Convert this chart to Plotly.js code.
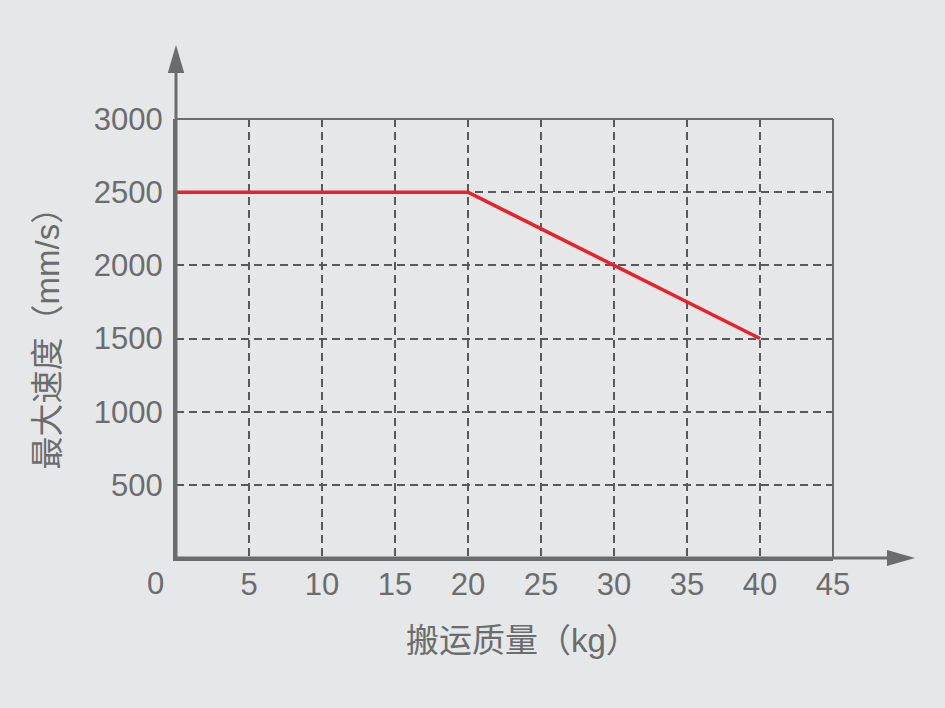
<!DOCTYPE html>
<html><head><meta charset="utf-8">
<script src="https://cdn.plot.ly/plotly-3.0.1.min.js"></script>
<style>html,body{margin:0;padding:0;background:#e6e7e8;}#chart{width:945px;height:708px;}</style>
</head><body><div id="chart"></div>
<script>
const loadKg = [0, 20, 40];
const speedMmS = [2500, 2500, 1500];
const xTicks = [5, 10, 15, 20, 25, 30, 35, 40, 45];
const yTicks = [500, 1000, 1500, 2000, 2500, 3000];
const xTitle = '搬运质量（kg）';
const yTitle = '最大速度（mm/s）';

const FONT = 'Liberation Sans, Arial, Noto Sans CJK SC, sans-serif';
const AX = '#6b6c6e';
const GRID = '#58595b';
const TS = 31;

const trace = {
  x: loadKg, y: speedMmS, type: 'scatter', mode: 'lines',
  line: {color: '#e8212b', width: 3.5}, hoverinfo: 'skip'
};

const layout = {
  width: 945, height: 708,
  paper_bgcolor: '#e6e7e8', plot_bgcolor: '#e6e7e8',
  margin: {l: 176, r: 112, t: 119, b: 150, pad: 0},
  showlegend: false,
  font: {family: FONT, color: AX, size: TS},
  xaxis: {
    range: [0, 45], tickmode: 'array', tickvals: xTicks, ticktext: xTicks.map(String),
    showgrid: true, gridcolor: GRID, gridwidth: 2, griddash: '8px,5px',
    zeroline: false, showline: true, linecolor: AX, linewidth: 3,
    ticks: '', ticklen: 0, ticklabelstandoff: -3, tickfont: {size: TS, color: AX, family: FONT},
    fixedrange: true
  },
  yaxis: {
    range: [0, 3000], tickmode: 'array', tickvals: yTicks, ticktext: yTicks.map(String),
    showgrid: true, gridcolor: GRID, gridwidth: 2, griddash: '8px,5px',
    zeroline: false, showline: true, linecolor: AX, linewidth: 3,
    ticks: '', ticklen: 0, ticklabelstandoff: 4, tickfont: {size: TS, color: AX, family: FONT},
    fixedrange: true
  },
  shapes: [
    {type: 'line', xref: 'paper', yref: 'paper', x0: 0, x1: 1, y0: 1, y1: 1, line: {color: AX, width: 2}},
    {type: 'line', xref: 'paper', yref: 'paper', x0: 1, x1: 1, y0: 0, y1: 1, line: {color: AX, width: 2}},
    {type: 'line', xref: 'paper', yref: 'paper', x0: 0, x1: 0, y0: 0, y1: 1.12, line: {color: AX, width: 3}},
    {type: 'line', xref: 'paper', yref: 'paper', x0: 0, x1: 1.09, y0: 0, y1: 0, line: {color: AX, width: 3}},
    {type: 'path', xref: 'paper', yref: 'paper',
     path: 'M -0.0125 1.1048 L 0 1.1686 L 0.0125 1.1048 Z', fillcolor: AX, line: {color: AX, width: 0}},
    {type: 'path', xref: 'paper', yref: 'paper',
     path: 'M 1.0822 -0.0185 L 1.1248 0 L 1.0822 0.0185 Z', fillcolor: AX, line: {color: AX, width: 0}}
  ],
  annotations: [
    {text: '0', xref: 'paper', yref: 'paper', x: -0.031, y: -0.059, showarrow: false,
     font: {size: TS, color: AX, family: FONT}, xanchor: 'center', yanchor: 'middle'},
    {text: xTitle, xref: 'paper', yref: 'paper', x: 0.527, y: -0.187, showarrow: false,
     font: {size: 33, color: AX, family: FONT}, xanchor: 'center', yanchor: 'middle'},
    {text: yTitle, xref: 'paper', yref: 'paper', x: -0.196, y: 0.519, showarrow: false, textangle: -90,
     font: {size: 33, color: AX, family: FONT}, xanchor: 'center', yanchor: 'middle'}
  ]
};

Plotly.newPlot('chart', [trace], layout, {displayModeBar: false, staticPlot: true});
</script></body></html>
